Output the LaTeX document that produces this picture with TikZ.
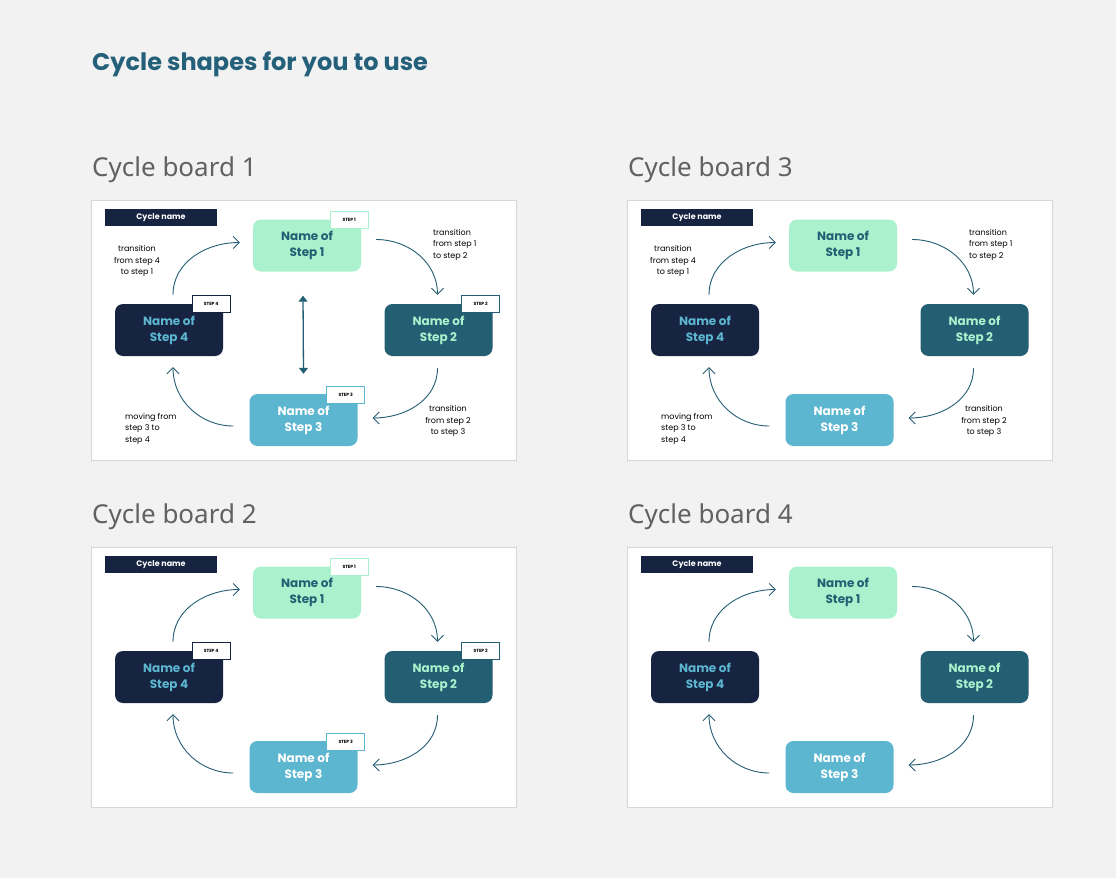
\documentclass[tikz,border=0pt]{standalone}
\usepackage{fontspec}
\setmainfont{Poppins}
\newfontfamily\headfont{Noto Sans}
\usetikzlibrary{positioning, calc, arrows.meta}

\definecolor{pagebg}{HTML}{F2F2F2}
\definecolor{titleteal}{HTML}{24607A}
\definecolor{mint}{HTML}{A9F2CD}
\definecolor{deepteal}{HTML}{245E73}
\definecolor{skyblue}{HTML}{5CB6D0}
\definecolor{navy}{HTML}{162442}
\definecolor{framegray}{HTML}{D6D6D6}

\tikzset{
  stepbox/.style={rounded corners=8pt, minimum width=108pt, minimum height=52pt,
    align=center, font=\bfseries\fontsize{12}{16}\selectfont},
  tag/.style={draw, line width=1.3pt, fill=white, minimum width=38pt, minimum height=17pt,
    font=\bfseries\fontsize{4.5}{6}\selectfont, text=black, inner sep=0pt},
  flow/.style={draw=deepteal, line width=0.9pt, -{Straight Barb[length=6pt,width=12pt]}},
  note/.style={font=\fontsize{8}{11.5}\selectfont, text=black, inner sep=0pt}
}

% #1 prefix, #2 x, #3 y, #4 tags, #5 notes, #6 double arrow
\newcommand{\cycleboard}[6]{%
\begin{scope}[shift={(#2,#3)}]
  \draw[fill=white, draw=framegray, line width=1pt] (0,0) rectangle (425,260);
  \node[fill=navy, text=white, minimum width=112pt, minimum height=17pt, inner sep=0pt,
        font=\bfseries\fontsize{8}{10}\selectfont] (#1name) at (70,17.5) {Cycle name};
  \node[stepbox, fill=mint, text=deepteal] (#1s1) at (216,45.5) {Name of\\Step 1};
  \node[stepbox, fill=deepteal, text=mint] (#1s2) at (347.5,130) {Name of\\Step 2};
  \node[stepbox, fill=skyblue, text=white] (#1s3) at (212.5,220) {Name of\\Step 3};
  \node[stepbox, fill=navy, text=skyblue] (#1s4) at (78,130) {Name of\\Step 4};
  \ifnum#4=1
    \node[tag, draw=mint] (#1t1) at ([shift={(-12,1)}]#1s1.north east) {STEP 1};
    \node[tag, draw=deepteal] (#1t2) at ([shift={(-12,0)}]#1s2.north east) {STEP 2};
    \node[tag, draw=skyblue] (#1t3) at ([shift={(-12,1)}]#1s3.north east) {STEP 3};
    \node[tag, draw=navy] (#1t4) at ([shift={(-12,0)}]#1s4.north east) {STEP 4};
  \fi
  \draw[flow] ([shift={(4,-9)}]#1s4.north) to[out=90, in=180] ([shift={(-13,-3)}]#1s1.west);
  \draw[flow] ([shift={(15,-6)}]#1s1.east) to[out=0, in=90] ([shift={(-1,-9)}]#1s2.north);
  \draw[flow] ([shift={(-1,12)}]#1s2.south) to[out=-90, in=0] ([shift={(15,-2)}]#1s3.east);
  \draw[flow] ([shift={(-16,6)}]#1s3.west) to[out=180, in=-90] ([shift={(4,11)}]#1s4.south);
  \ifnum#6=1
    \draw[draw=deepteal, line width=1.3pt, {Triangle[length=6pt,width=9pt]}-{Triangle[length=6pt,width=9pt]}]
      ([shift={(-4,24)}]#1s1.south) -- ([shift={(0,-20)}]#1s3.north);
  \fi
  \ifnum#5=1
    \node[note, align=center] (#1n41) at (46,61) {transition\\from step 4\\to step 1};
    \node[note, align=left, anchor=north west] (#1n12) at (342,29) {transition\\from step 1\\to step 2};
    \node[note, align=center] (#1n23) at (357,221) {transition\\from step 2\\to step 3};
    \node[note, align=left, anchor=north west] (#1n34) at (34,213) {moving from\\step 3 to\\step 4};
  \fi
\end{scope}}

\begin{document}
\begin{tikzpicture}[x=1pt, y=-1pt]
  \fill[pagebg] (0,0) rectangle (1116,878);
  \useasboundingbox (0,0) rectangle (1116,878);
  % Title
  \node[anchor=west, text=titleteal, font=\bfseries\fontsize{24}{30}\selectfont, inner sep=0pt] (title) at (92,64) {Cycle shapes for you to use};
  % Board headings
  \foreach \bx/\by/\bn in {92/170/1, 628/170/3, 92/517/2, 628/517/4}
    \node[anchor=west, text=black!62, font=\headfont\fontsize{26}{30}\selectfont, inner sep=0pt] (head\bn) at (\bx,\by) {Cycle board \bn};
  % Boards
  \cycleboard{a}{91}{200}{1}{1}{1}
  \cycleboard{c}{627}{200}{0}{1}{0}
  \cycleboard{b}{91}{547}{1}{0}{0}
  \cycleboard{d}{627}{547}{0}{0}{0}
\end{tikzpicture}
\end{document}
